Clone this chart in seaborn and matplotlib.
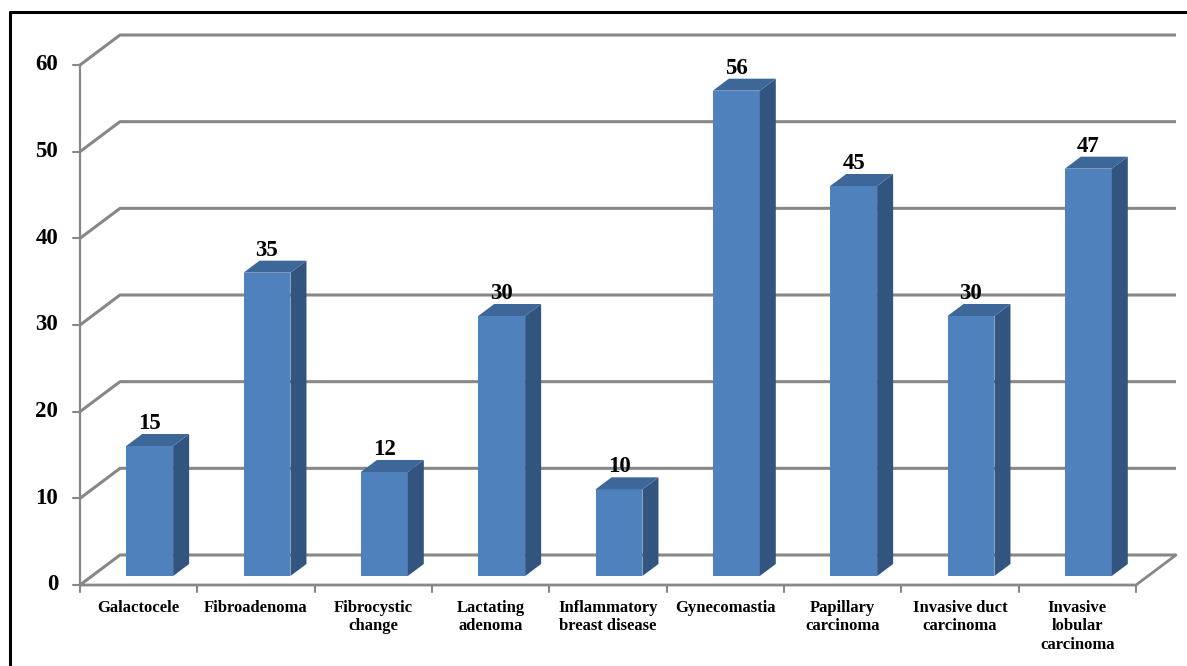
import numpy as np
import pandas as pd
import matplotlib
matplotlib.use("Agg")
import matplotlib.pyplot as plt
import matplotlib.transforms as mtransforms
from matplotlib.patches import Polygon
from matplotlib.lines import Line2D
import seaborn as sns

categories = ["Galactocele", "Fibroadenoma", "Fibrocystic\nchange", "Lactating\nadenoma",
              "Inflammatory\nbreast disease", "Gynecomastia", "Papillary\ncarcinoma",
              "Invasive duct\ncarcinoma", "Invasive\nlobular\ncarcinoma"]
values = [15, 35, 12, 30, 10, 56, 45, 30, 47]
y_ticks = [0, 10, 20, 30, 40, 50, 60]

sns.set_theme(style="white")
plt.rcParams['font.family'] = ['Liberation Serif', 'DejaVu Serif']

W, H, DPI = 1187, 666, 100
FRONT = "#4F81BD"
SIDE = "#32557F"
TOP = "#3D6699"
GRID = "#878787"

fig = plt.figure(figsize=(W / DPI, H / DPI), dpi=DPI)
ax = fig.add_axes([80 / W, 1 - 585 / H, (1136 - 80) / W, (585 - 65) / H])

df = pd.DataFrame({"category": categories, "value": values})
sns.barplot(data=df, x="category", y="value", width=0.4, color=FRONT,
            saturation=1, ax=ax, zorder=3)

ax.set_xlim(-0.5, len(categories) - 0.5)
ax.set_ylim(0, 60)
for s in ax.spines.values():
    s.set_visible(False)
ax.set_xticks([])
ax.set_yticks([])
ax.set_xlabel("")
ax.set_ylabel("")
ax.patch.set_alpha(0)

# pixel -> data conversion
xr = ax.get_xlim()[1] - ax.get_xlim()[0]
px_x = (1136 - 80) / xr
px_y = (585 - 65) / 60.0
DX, DY = 40 / px_x, 30 / px_y       # wall depth
bdx, bdy = 16 / px_x, 12 / px_y     # bar depth

shift = mtransforms.ScaledTranslation(11 / DPI, 9 / DPI, fig.dpi_scale_trans)
btrans = ax.transData + shift

x_lo, x_hi = ax.get_xlim()

# gridlines / back wall
for v in y_ticks:
    ax.plot([x_lo, x_lo + DX, x_hi + DX], [v, v + DY, v + DY], color=GRID,
            lw=2.2, clip_on=False, zorder=1, solid_capstyle="butt")
# front vertical axis
ax.plot([x_lo, x_lo], [0, 60], color=GRID, lw=1.6, clip_on=False, zorder=1)
# floor front and right edge
ax.plot([x_lo, x_hi, x_hi + DX], [0, 0, DY], color=GRID, lw=2.0,
        clip_on=False, zorder=2)
# ticks and y labels
for v in y_ticks:
    ax.add_line(Line2D([x_lo - 7 / px_x, x_lo], [v, v], color=GRID, lw=1.5,
                       clip_on=False, zorder=1))
    ax.text(x_lo - 22 / px_x, v, str(v), ha="right", va="center",
            fontsize=16.5, fontweight="bold", color="black", clip_on=False)
for k in range(len(categories) + 1):
    xb = x_lo + k
    ax.add_line(Line2D([xb, xb], [0, -7 / px_y], color=GRID, lw=1.5,
                       clip_on=False, zorder=1))

# 3D faces of bars
for p, val in zip(ax.patches, values):
    p.set_transform(btrans)
    p.set_edgecolor("none")
    x0 = p.get_x()
    w = p.get_width()
    h = p.get_height()
    side = Polygon([[x0 + w, 0], [x0 + w + bdx, bdy], [x0 + w + bdx, h + bdy], [x0 + w, h]],
                   closed=True, facecolor=SIDE, edgecolor="none", transform=btrans,
                   zorder=3, clip_on=False)
    top = Polygon([[x0, h], [x0 + w, h], [x0 + w + bdx, h + bdy], [x0 + bdx, h + bdy]],
                  closed=True, facecolor=TOP, edgecolor="none", transform=btrans,
                  zorder=3, clip_on=False)
    ax.add_patch(side)
    ax.add_patch(top)
    ax.text(x0 + w / 2, h + 17 / px_y, f"{val:g}", ha="center", va="baseline",
            fontsize=16.5, fontweight="bold", color="black", transform=btrans,
            clip_on=False, zorder=5)

# category labels
for i, lab in enumerate(categories):
    ax.text(i, -15 / px_y, lab, ha="center", va="top", fontsize=12,
            fontweight="bold", color="black", linespacing=1.2, clip_on=False)

# outer border (left and top)
fig.add_artist(Line2D([10 / W, 10 / W], [0, 1 - 12 / H], transform=fig.transFigure,
                      color="black", lw=2.2))
fig.add_artist(Line2D([10 / W, 1], [1 - 12 / H, 1 - 12 / H], transform=fig.transFigure,
                      color="black", lw=2.2))

fig.savefig("out.png", dpi=DPI)
